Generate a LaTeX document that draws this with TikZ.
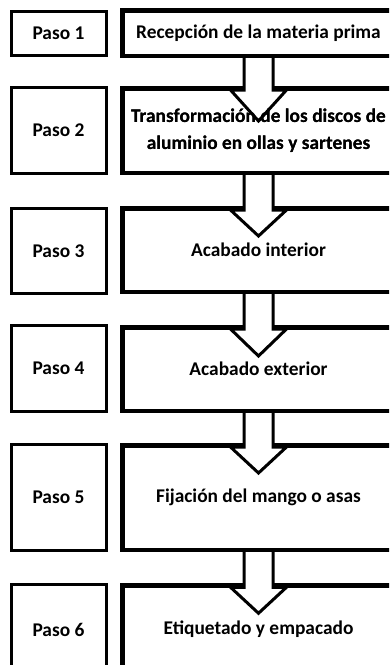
\documentclass[tikz,border=0pt]{standalone}
\usepackage{fontspec}
\setmainfont{Carlito}
\usetikzlibrary{calc}
\newcommand\blockarrow[4]{% from node, to node, x centre, head length
  \path (#3,0) |- (#1.south) coordinate (ba);
  \path (#3,0) |- (#2.north) coordinate (bb);
  \fill[white] ($(ba)+(-14.5,0)$) -- ($(bb)+(-14.5,4)$) -- ($(bb)+(-28,4)$) -- ($(bb)+(0,4+#4)$)
     -- ($(bb)+(28,4)$) -- ($(bb)+(14.5,4)$) -- ($(ba)+(14.5,0)$) -- cycle;
  \draw[arrowline] ($(ba)+(-14.5,-2)$) -- ($(bb)+(-14.5,4)$) -- ($(bb)+(-28,4)$) -- ($(bb)+(0,4+#4)$)
     -- ($(bb)+(28,4)$) -- ($(bb)+(14.5,4)$) -- ($(ba)+(14.5,-2)$);
}
\begin{document}
\begin{tikzpicture}[x=1pt,y=-1pt,
  txt/.style={font=\bfseries\fontsize{19.4}{27}\selectfont, align=center, text=black},
  stepbox/.style={txt, draw, line width=3pt, minimum width=95pt, inner sep=0pt},
  procbox/.style={txt, draw, line width=4.5pt, minimum width=272.5pt, inner sep=0pt},
  arrowline/.style={draw, line width=3pt, line join=miter}]
\useasboundingbox (0,0) rectangle (389,665);
\clip (0,0) rectangle (389,665);
\fill[white] (0,0) rectangle (389,665);

\node[stepbox, minimum height=44pt] (s1) at (58.5,33.5) {Paso 1};
\node[stepbox, minimum height=86pt] (s2) at (58.5,130.5) {Paso 2};
\node[stepbox, minimum height=85pt] (s3) at (58.5,251) {Paso 3};
\node[stepbox, minimum height=86pt] (s4) at (58.5,368.5) {Paso 4};
\node[stepbox, minimum height=106pt] (s5) at (58.5,497.5) {Paso 5};
\node[stepbox, minimum height=90pt] (s6) at (58.5,629.5) {Paso 6};

\node[procbox, minimum height=45.5pt] (p1) at (258.5,33) {Recepción de la materia prima};
\node[procbox, minimum height=84.5pt] (p2) at (258.5,130.5) {Transformación de los discos de\\aluminio en ollas y sartenes};
\node[procbox, minimum height=83.5pt] (p3) at (258.5,250) {Acabado interior};
\node[procbox, minimum height=83.5pt] (p4) at (258.5,369) {Acabado exterior};
\node[procbox, minimum height=104.5pt] (p5) at (258.5,497.5) {Fijación del mango o asas};
\node[procbox, minimum height=88pt] (p6) at (258.5,629.5) {Etiquetado y empacado};

\blockarrow{p1}{p2}{259}{31}
\blockarrow{p2}{p3}{253}{26}
\blockarrow{p3}{p4}{252.5}{27}
\blockarrow{p4}{p5}{256.5}{26}
\blockarrow{p5}{p6}{252.5}{26}

% text of box 2 stays readable above the arrow tip
\node[txt] at (p2.center) {Transformación de los discos de\\aluminio en ollas y sartenes};
\end{tikzpicture}
\end{document}
